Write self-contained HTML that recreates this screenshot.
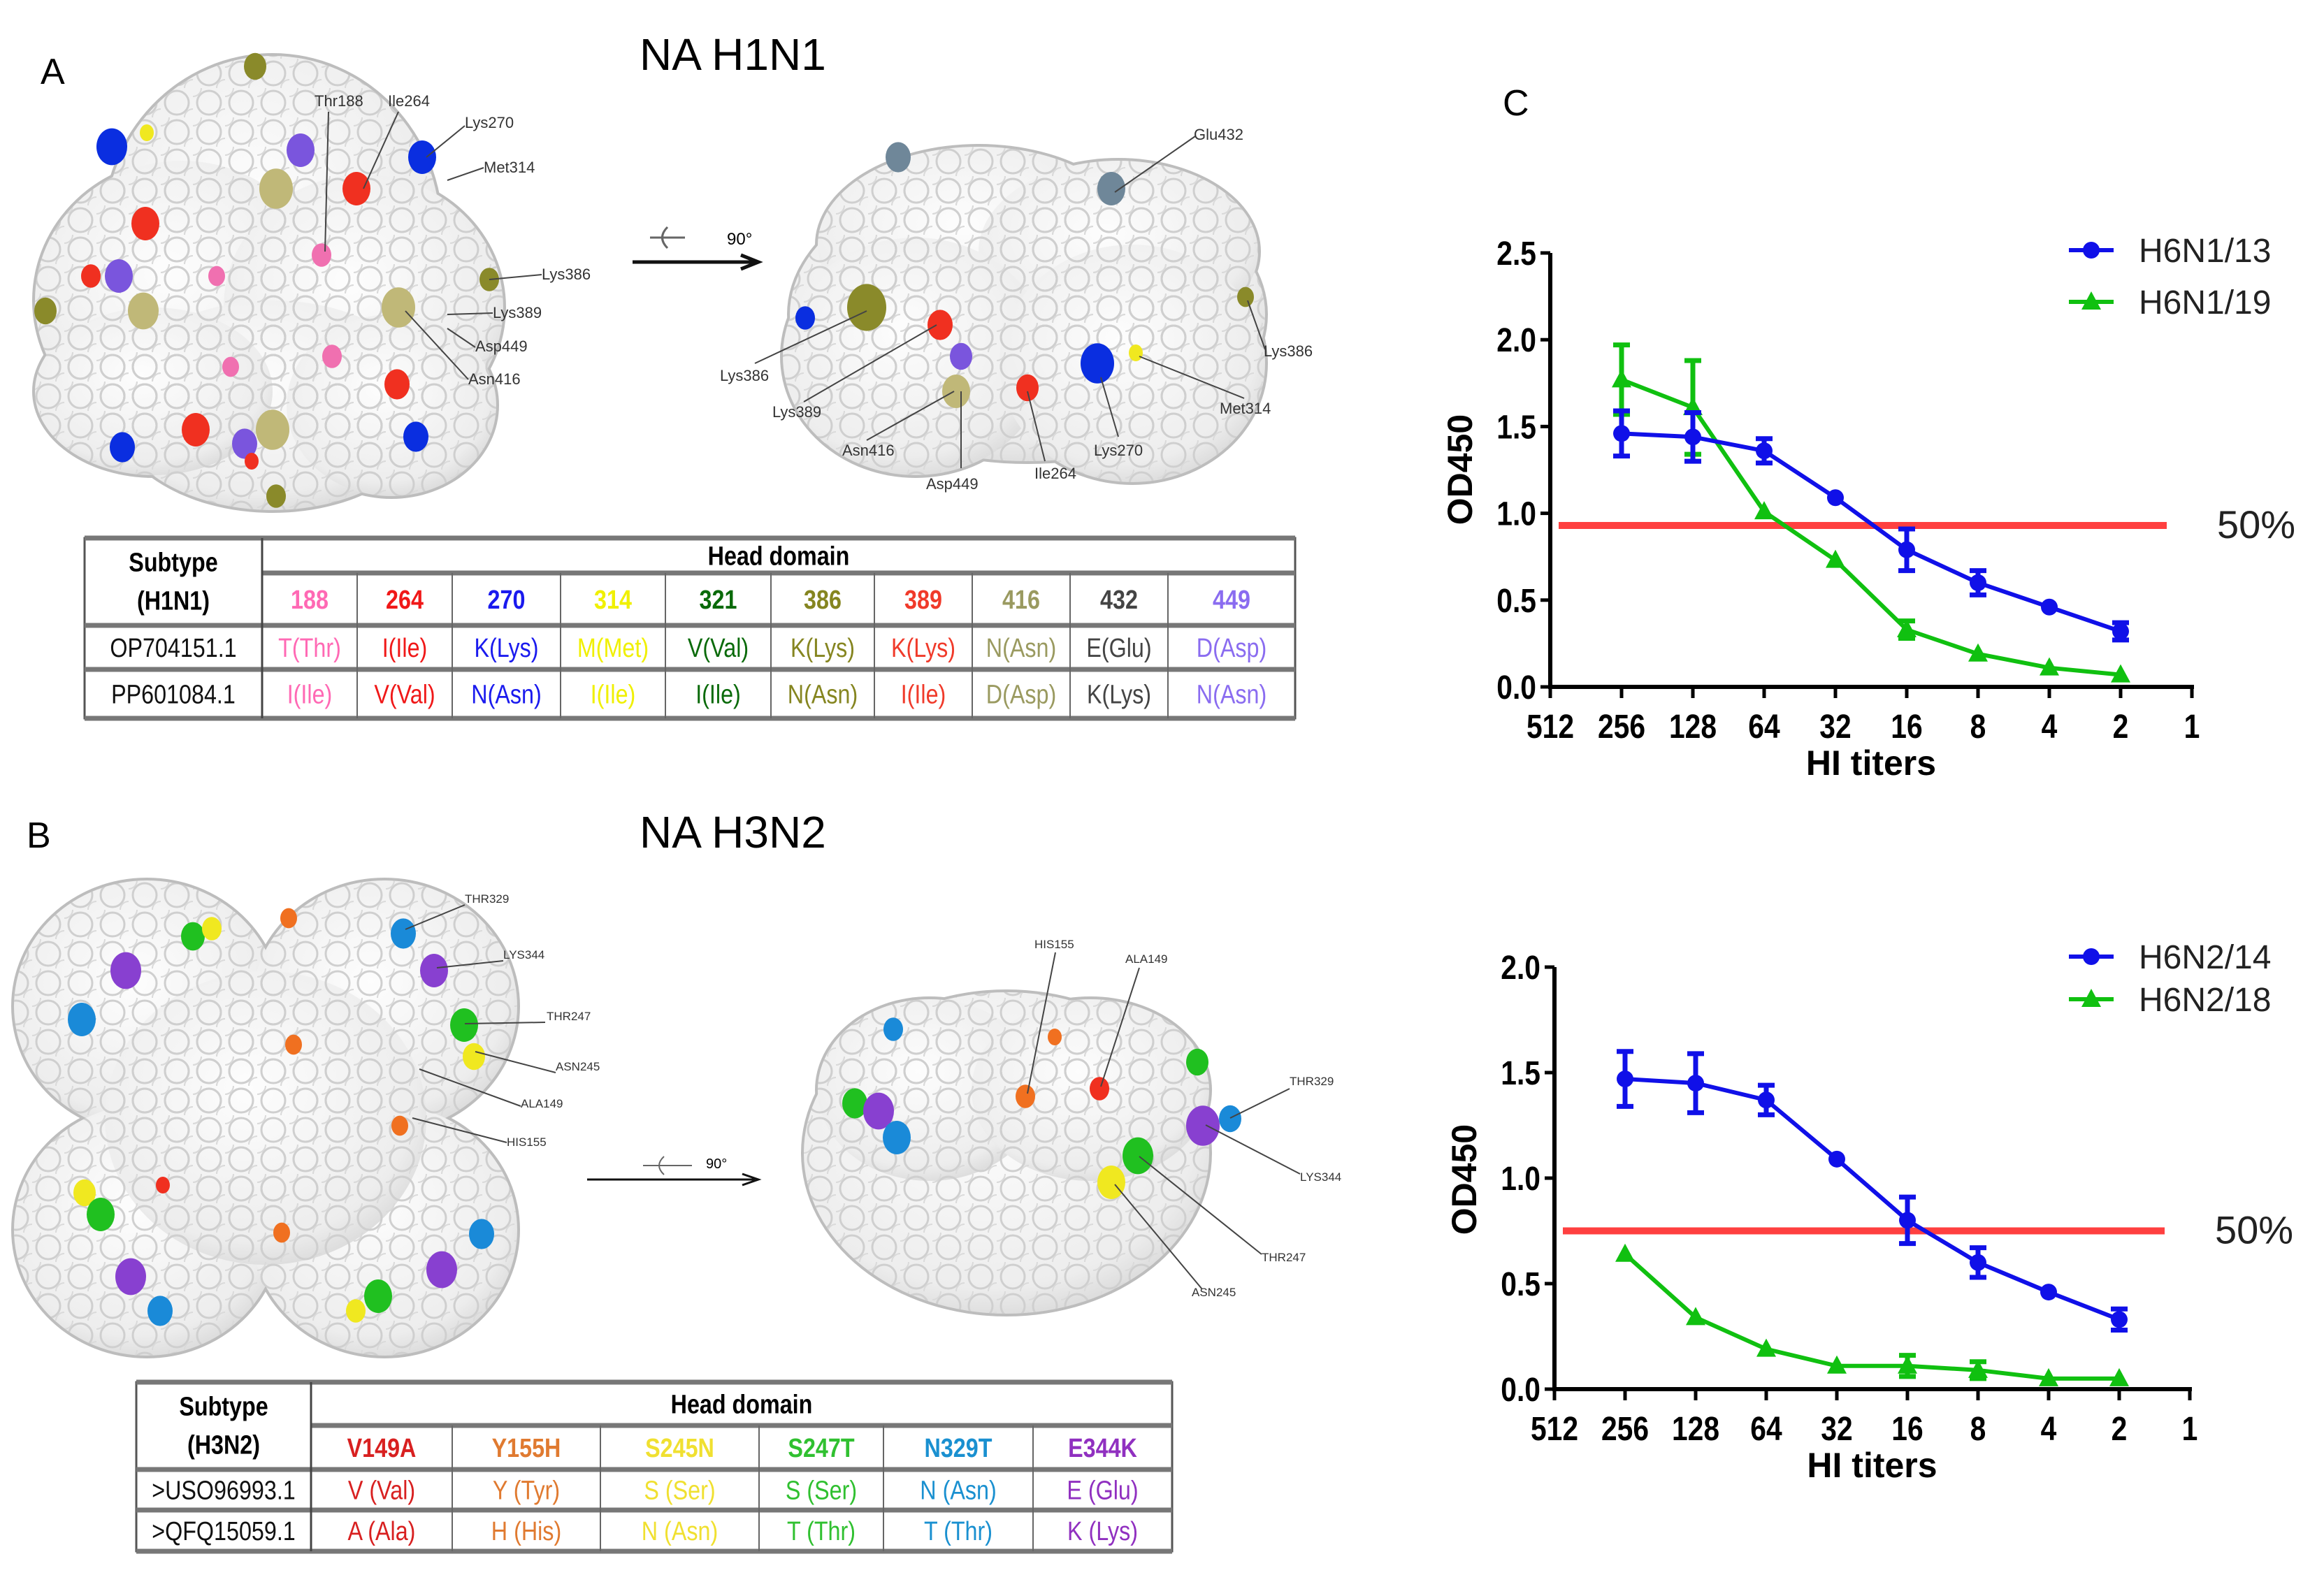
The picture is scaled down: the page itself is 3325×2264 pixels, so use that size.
<!DOCTYPE html>
<html><head><meta charset="utf-8"><style>
html,body{margin:0;padding:0;background:#fff;}
svg{display:block;font-family:"Liberation Sans",sans-serif;}
.nar{font-family:"Liberation Sans Narrow","Liberation Sans",sans-serif;}
</style></head><body>
<svg id="page" width="3325" height="2264" viewBox="0 0 3325 2264" xmlns="http://www.w3.org/2000/svg">
<defs>
<radialGradient id="prot" cx="45%" cy="40%" r="65%">
<stop offset="0" stop-color="#fdfdfd"/><stop offset="0.8" stop-color="#ededed"/><stop offset="1" stop-color="#d6d6d6"/>
</radialGradient>
<pattern id="bumps" width="46" height="42" patternUnits="userSpaceOnUse">
<circle cx="23" cy="21" r="17" fill="none" stroke="#cfcfcf" stroke-width="3"/>
<circle cx="0" cy="0" r="12" fill="none" stroke="#dadada" stroke-width="2"/>
<circle cx="46" cy="42" r="12" fill="none" stroke="#dadada" stroke-width="2"/>
</pattern>
</defs>
<rect x="0" y="0" width="3325" height="2264" fill="#fff"/>
<g id="left"></g>
<g id="charts"></g>
</svg>
<script>
// ===== Chart data =====
const xTickLabels = ["512","256","128","64","32","16","8","4","2","1"];
const topYTicks = ["0.0","0.5","1.0","1.5","2.0","2.5"];
const botYTicks = ["0.0","0.5","1.0","1.5","2.0"];
const topSeriesNames = ["H6N1/13","H6N1/19"];
const botSeriesNames = ["H6N2/14","H6N2/18"];
const topBlue = [1.46,1.44,1.36,1.09,0.79,0.60,0.46,0.32];
const topBlueErr = [0.13,0.14,0.07,0.0,0.12,0.07,0.0,0.05];
const topGreen = [1.77,1.61,1.01,0.73,0.33,0.19,0.11,0.07];
const topGreenErr = [0.20,0.27,0.0,0.0,0.05,0.0,0.0,0.0];
const botBlue = [1.47,1.45,1.37,1.09,0.80,0.60,0.46,0.33];
const botBlueErr = [0.13,0.14,0.07,0.0,0.11,0.07,0.0,0.05];
const botGreen = [0.64,0.34,0.19,0.11,0.11,0.09,0.05,0.05];
const botGreenErr = [0.0,0.0,0.0,0.0,0.05,0.04,0.0,0.0];
const topCutoff = [0.93];
const botCutoff = [0.75];

const NS = "http://www.w3.org/2000/svg";
function mk(parent, tag, attrs, text){
  const e = document.createElementNS(NS, tag);
  for (const k in attrs) e.setAttribute(k, attrs[k]);
  if (text !== undefined) e.textContent = text;
  parent.appendChild(e);
  return e;
}
const chartsG = document.getElementById('charts');

function drawChart(o){
  const g = mk(chartsG,'g',{});
  
  
  const xs = i => o.ax + i*o.dx;
  const ys = v => o.y0 - v*o.py;
  const ymaxV = parseFloat(o.yTicks[o.yTicks.length-1]);
  const ya = mk(g,'line',{x1:o.ax,y1:ys(ymaxV),x2:o.ax,y2:o.y0+3,stroke:'#000','stroke-width':6});
  
  
  const xa = mk(g,'line',{x1:o.ax-3,y1:o.y0,x2:xs(9)+3,y2:o.y0,stroke:'#000','stroke-width':6});
  
  
  o.yTicks.forEach(t=>{
    const v = parseFloat(t);
    mk(g,'line',{x1:o.ax-14,y1:ys(v),x2:o.ax,y2:ys(v),stroke:'#000','stroke-width':5});
    const tx = mk(g,'text',{x:o.ax-20,y:ys(v)+17,'text-anchor':'end','font-size':48,'font-weight':'bold',transform:`translate(${o.ax-20},0) scale(0.85,1) translate(${-(o.ax-20)},0)`},t);
    
    
  });
  xTickLabels.forEach((t,i)=>{
    mk(g,'line',{x1:xs(i),y1:o.y0,x2:xs(i),y2:o.y0+16,stroke:'#000','stroke-width':5});
    const tx = mk(g,'text',{x:xs(i),y:o.y0+73,'text-anchor':'middle','font-size':48,'font-weight':'bold',transform:`translate(${xs(i)},0) scale(0.85,1) translate(${-xs(i)},0)`},t);
    
    
  });
  const xt = mk(g,'text',{x:o.ax+(xs(9)-o.ax)/2,y:o.y0+126,'text-anchor':'middle','font-size':50,'font-weight':'bold'},'HI titers');
  
  
  const yt = mk(g,'text',{x:0,y:0,'text-anchor':'middle','font-size':50,'font-weight':'bold',transform:`translate(${o.ax-112},${o.ytY}) rotate(-90)`},'OD450');
  
  
  const cl = mk(g,'line',{x1:o.ax+12,y1:ys(o.cut[0]),x2:xs(9)-36,y2:ys(o.cut[0]),stroke:'#ff4040','stroke-width':10});
  
  
  const ct = mk(g,'text',{x:xs(9)+36,y:ys(o.cut[0])+18,'font-size':56,fill:'#222'},'50%');
  
  
  const series = [
    {vals:o.blue,err:o.blueErr,col:'#1010e8',shape:'circle',nm:'blue'},
    {vals:o.green,err:o.greenErr,col:'#10c010',shape:'tri',nm:'green'}];
  [series[1],series[0]].forEach(s=>{
    const sg = mk(g,'g',{});
    
    
    const pts = s.vals.map((v,i)=>xs(i+1)+','+ys(v)).join(' ');
    mk(sg,'polyline',{points:pts,fill:'none',stroke:s.col,'stroke-width':6});
    s.vals.forEach((v,i)=>{
      const x = xs(i+1), y = ys(v), e = s.err[i];
      if (e>0){
        const eb = mk(sg,'path',{d:`M${x},${ys(v-e)}V${ys(v+e)}M${x-12},${ys(v+e)}H${x+12}M${x-12},${ys(v-e)}H${x+12}`,stroke:s.col,'stroke-width':7,fill:'none'});
        
        
      }
      let m;
      if (s.shape==='circle') m = mk(sg,'circle',{cx:x,cy:y,r:12,fill:s.col});
      else m = mk(sg,'path',{d:`M${x},${y-15}L${x+14},${y+11}L${x-14},${y+11}Z`,fill:s.col});
      
      
    });
  });
  const names = o.names;
  [[0,'#1010e8','circle'],[1,'#10c010','tri']].forEach(([k,col,shp])=>{
    const ly = o.legY[k];
    const lg = mk(g,'g',{});
    
    
    mk(lg,'line',{x1:2960,y1:ly,x2:3024,y2:ly,stroke:col,'stroke-width':6});
    if (shp==='circle') mk(lg,'circle',{cx:2992,cy:ly,r:12,fill:col});
    else mk(lg,'path',{d:`M2992,${ly-15}L3006,${ly+11}L2978,${ly+11}Z`,fill:col});
    mk(lg,'text',{x:3060,y:ly+17,'font-size':48,fill:'#222'},names[k]);
  });
}
drawChart({name:'chart-h6n1',ax:2218,dx:102,y0:983,py:248.4,yTicks:topYTicks,
  blue:topBlue,blueErr:topBlueErr,green:topGreen,greenErr:topGreenErr,cut:topCutoff,
  names:topSeriesNames,legY:[358,432],ytY:672});
drawChart({name:'chart-h6n2',ax:2224,dx:101,y0:1988,py:302,yTicks:botYTicks,
  blue:botBlue,blueErr:botBlueErr,green:botGreen,greenErr:botGreenErr,cut:botCutoff,
  names:botSeriesNames,legY:[1369,1430],ytY:1688});
const cL = mk(chartsG,'text',{x:2150,y:165,'font-size':52},'C');



// ===== Left panels =====
const L = document.getElementById('left');
function label(x,y,t,size,extra){
  const a = Object.assign({x:x,y:y,'font-size':size},extra||{});
  return mk(L,'text',a,t);
}
let t;
t = label(58,120,'A',52);  
t = label(915,100,'NA H1N1',64);  
t = label(38,1213,'B',52);  
t = label(915,1213,'NA H3N2',64);  

function protein(name, shapes, dots){
  const g = mk(L,'g',{});
  
  
  shapes.forEach(s=>mk(g,'ellipse',{cx:s[0],cy:s[1],rx:s[2]+4,ry:s[3]+4,fill:'#bdbdbd'}));
  shapes.forEach(s=>mk(g,'ellipse',{cx:s[0],cy:s[1],rx:s[2],ry:s[3],fill:'url(#prot)'}));
  shapes.forEach(s=>mk(g,'ellipse',{cx:s[0],cy:s[1],rx:s[2],ry:s[3],fill:'url(#bumps)'}));
  dots.forEach(d=>mk(g,'ellipse',{cx:d[0],cy:d[1],rx:d[3]||17,ry:(d[3]||17)*1.2,fill:d[2]}));
}
const OL='#8a8a2a', OL2='#c0b878', BL='#0a2ee0', RD='#f03020', PK='#f070b0', PU='#7a55dd', YE='#f0e820', GB='#6f8799';
protein('protein-a-top-view',
 [[390,330,240,250],[260,430,210,200],[520,440,200,190],[390,580,230,150],[220,560,170,120],[560,580,150,130]],
 [[160,210,BL,22],[210,190,YE,10],[510,270,RD,20],[604,225,BL,20],[365,95,OL,16],[430,215,PU,20],[395,270,OL2,24],[208,320,RD,20],[460,365,PK,14],[310,395,PK,12],[130,395,RD,14],[170,395,PU,20],[65,445,OL,16],[205,445,OL2,22],[570,440,OL2,24],[700,400,OL,14],[568,550,RD,18],[475,510,PK,14],[330,525,PK,12],[175,640,BL,18],[280,615,RD,20],[350,635,PU,18],[390,615,OL2,24],[595,625,BL,18],[395,710,OL,14],[360,660,RD,10]]);
protein('protein-a-side-view',
 [[1470,450,340,210],[1400,350,230,140],[1600,360,200,130],[1310,510,190,170],[1620,520,190,170]],
 [[1285,225,GB,18],[1590,270,GB,20],[1240,440,OL,28],[1152,455,BL,14],[1345,465,RD,18],[1375,510,PU,16],[1368,560,OL2,20],[1470,555,RD,16],[1570,520,BL,24],[1625,505,YE,10],[1782,425,OL,12]]);
mk(L,'path',{d:'M905,375H1080M1060,365L1085,375L1060,385',stroke:'#111','stroke-width':5,fill:'none'});
mk(L,'path',{d:'M930,340H980M955,325q-15,15 0,30',stroke:'#666','stroke-width':3,fill:'none'});
label(1040,350,'90°',24);
const aLabels=[[450,152,'Thr188'],[555,152,'Ile264'],[665,183,'Lys270'],[692,247,'Met314'],[775,400,'Lys386'],[705,455,'Lys389'],[680,503,'Asp449'],[670,550,'Asn416'],
 [1708,200,'Glu432'],[1808,510,'Lys386'],[1030,545,'Lys386'],[1105,597,'Lys389'],[1205,652,'Asn416'],[1325,700,'Asp449'],[1480,685,'Ile264'],[1565,652,'Lys270'],[1745,592,'Met314']];
aLabels.forEach(a=>{const e=label(a[0],a[1],a[2],22,{fill:'#333'});});
[[470,160,465,360],[570,160,520,270],[665,180,610,225],[692,240,640,258],[775,393,700,400],[705,448,640,450],[680,497,640,470],[670,543,580,445],
 [1710,195,1595,275],[1810,500,1785,430],[1080,520,1240,445],[1150,575,1340,465],[1240,630,1365,560],[1375,670,1375,560],[1495,660,1470,560],[1600,625,1575,540],[1780,570,1630,510]]
 .forEach(l=>mk(L,'line',{x1:l[0],y1:l[1],x2:l[2],y2:l[3],stroke:'#444','stroke-width':2}));

protein('protein-b-top-view',
 [[210,1440,190,180],[550,1440,190,180],[210,1760,190,180],[550,1760,190,180],[380,1600,230,210]],
 [[276,1340,'#20c020'],[303,1329,YE,14],[180,1389,'#8840d0',22],[117,1459,'#1a8ad8',20],[577,1336,'#1a8ad8',18],[621,1389,'#8840d0',20],[664,1467,'#20c020',20],[678,1512,YE,16],[413,1314,'#f07020',12],[420,1495,'#f07020',12],[572,1611,'#f07020',12],[233,1696,RD,10],[121,1707,YE,16],[144,1738,'#20c020',20],[187,1827,'#8840d0',22],[229,1876,'#1a8ad8',18],[541,1855,'#20c020',20],[509,1876,YE,14],[632,1817,'#8840d0',22],[689,1766,'#1a8ad8',18],[403,1764,'#f07020',12]]);
protein('protein-b-side-view',
 [[1440,1650,290,230],[1330,1560,160,130],[1560,1560,170,130]],
 [[1278,1473,'#1a8ad8',14],[1223,1579,'#20c020',18],[1257,1590,'#8840d0',22],[1283,1628,'#1a8ad8',20],[1467,1569,'#f07020',14],[1573,1558,RD,14],[1713,1520,'#20c020',16],[1721,1611,'#8840d0',24],[1760,1601,'#1a8ad8',16],[1628,1654,'#20c020',22],[1590,1692,YE,20],[1509,1484,'#f07020',10]]);
mk(L,'path',{d:'M840,1688H1080M1062,1680L1085,1688L1062,1696',stroke:'#111','stroke-width':3,fill:'none'});
mk(L,'path',{d:'M920,1668H990M950,1655q-14,13 0,26',stroke:'#666','stroke-width':2,fill:'none'});
label(1010,1672,'90°',20);
const bLabels=[[665,1292,'THR329'],[720,1372,'LYS344'],[782,1460,'THR247'],[795,1532,'ASN245'],[745,1585,'ALA149'],[725,1640,'HIS155'],
 [1480,1357,'HIS155'],[1610,1378,'ALA149'],[1845,1553,'THR329'],[1860,1690,'LYS344'],[1805,1805,'THR247'],[1705,1855,'ASN245']];
bLabels.forEach(a=>{const e=label(a[0],a[1],a[2],17,{fill:'#333'});});
[[665,1295,580,1330],[720,1375,625,1385],[780,1463,665,1465],[795,1535,680,1505],[745,1583,600,1530],[725,1635,590,1600],
 [1510,1363,1470,1565],[1630,1385,1575,1555],[1845,1558,1760,1600],[1860,1680,1725,1610],[1805,1795,1630,1655],[1720,1845,1595,1695]]
 .forEach(l=>mk(L,'line',{x1:l[0],y1:l[1],x2:l[2],y2:l[3],stroke:'#444','stroke-width':2}));

// ===== Tables =====
function table(name,x0,cols,rowsY,hdr,cells,fs){
  const g = mk(L,'g',{class:'nar'});
  
  
  const x1 = cols[cols.length-1];
  const sx = 0.85;
  function txt(x,y,s,attrs){
    const a = Object.assign({x:x,y:y,'text-anchor':'middle','font-size':fs,transform:`translate(${x},0) scale(${sx},1) translate(${-x},0)`},attrs);
    return mk(g,'text',a,s);
  }
  mk(g,'rect',{x:x0,y:rowsY[0],width:x1-x0,height:rowsY[4]-rowsY[0],fill:'#fff',stroke:'#555','stroke-width':3});
  [0,2,3,4].forEach(i=>mk(g,'line',{x1:x0,y1:rowsY[i],x2:x1,y2:rowsY[i],stroke:'#777','stroke-width':7}));
  mk(g,'line',{x1:cols[0],y1:rowsY[1],x2:x1,y2:rowsY[1],stroke:'#777','stroke-width':7});
  mk(g,'line',{x1:cols[0],y1:rowsY[0],x2:cols[0],y2:rowsY[4],stroke:'#444','stroke-width':3});
  for(let i=1;i<cols.length-1;i++) mk(g,'line',{x1:cols[i],y1:rowsY[1],x2:cols[i],y2:rowsY[4],stroke:'#666','stroke-width':2});
  txt((x0+cols[0])/2,rowsY[0]+(rowsY[2]-rowsY[0])*0.38,'Subtype',{'font-weight':'bold'});
  txt((x0+cols[0])/2,rowsY[0]+(rowsY[2]-rowsY[0])*0.82,hdr,{'font-weight':'bold'});
  txt((cols[0]+x1)/2,(rowsY[0]+rowsY[1])/2+fs*0.35,'Head domain',{'font-weight':'bold'});
  cells.forEach((row,r)=>{
    row.forEach((c,i)=>{
      let cx, cy = (rowsY[r+1]+rowsY[r+2])/2+fs*0.35;
      if (i===0) { if(r===0) return; cx=(x0+cols[0])/2; }
      else cx=(cols[i-1]+cols[i])/2;
      txt(cx,cy,c[0],{fill:c[1],'font-weight':r===0?'bold':'normal'});
    });
  });
}
const colA = ['#ff69b4','#f01818','#1a1aee','#f0f000','#0a6a0a','#858520','#f03a2a','#9a9a60','#444','#8a6cf0'];
const nA = ['188','264','270','314','321','386','389','416','432','449'];
const r1A = ['T(Thr)','I(Ile)','K(Lys)','M(Met)','V(Val)','K(Lys)','K(Lys)','N(Asn)','E(Glu)','D(Asp)'];
const r2A = ['I(Ile)','V(Val)','N(Asn)','I(Ile)','I(Ile)','N(Asn)','I(Ile)','D(Asp)','K(Lys)','N(Asn)'];
table('table-h1n1',121,[375,511,647,802,952,1103,1251,1391,1531,1671,1853],[770,820,895,958,1028],'(H1N1)',
 [[['',''],...nA.map((v,i)=>[v,colA[i]])],[['OP704151.1','#111'],...r1A.map((v,i)=>[v,colA[i]])],[['PP601084.1','#111'],...r2A.map((v,i)=>[v,colA[i]])]],38);
const colB = ['#d82020','#e07a30','#f0e030','#30c030','#1a90d0','#9030c0'];
table('table-h3n2',195,[445,647,859,1086,1264,1478,1677],[1978,2040,2103,2161,2220],'(H3N2)',
 [[['',''],...['V149A','Y155H','S245N','S247T','N329T','E344K'].map((v,i)=>[v,colB[i]])],
  [['>USO96993.1','#111'],...['V (Val)','Y (Tyr)','S (Ser)','S (Ser)','N (Asn)','E (Glu)'].map((v,i)=>[v,colB[i]])],
  [['>QFQ15059.1','#111'],...['A (Ala)','H (His)','N (Asn)','T (Thr)','T (Thr)','K (Lys)'].map((v,i)=>[v,colB[i]])]],38);
</script>
</body></html>
